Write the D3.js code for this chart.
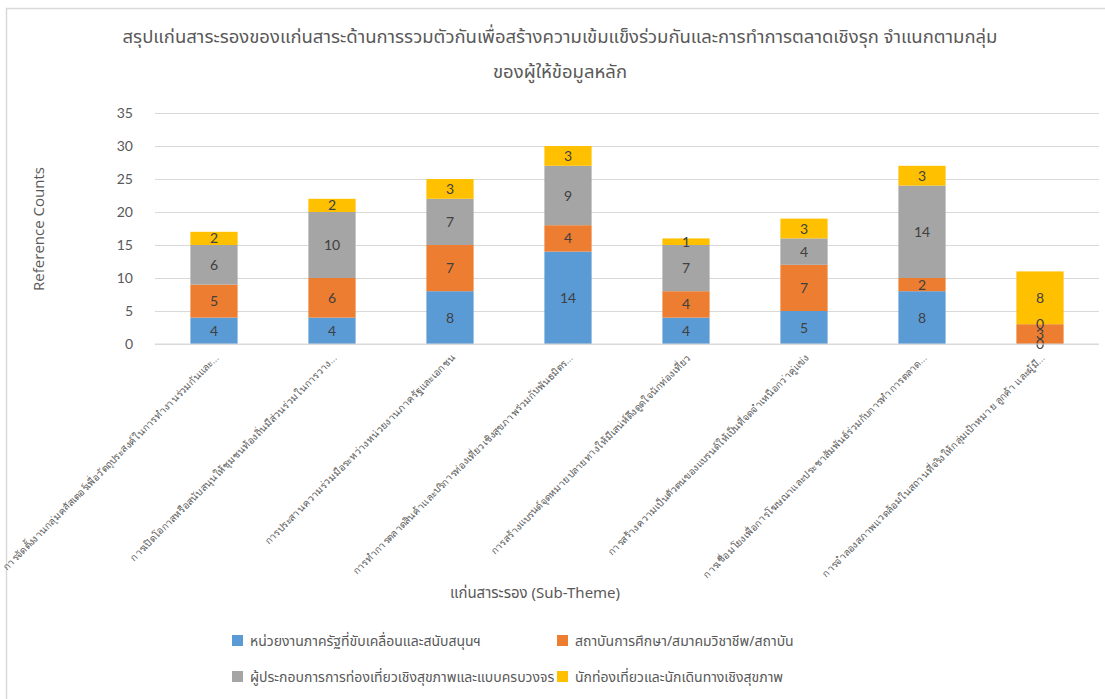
<!DOCTYPE html>
<html>
<head>
<meta charset="utf-8">
<script src="https://cdn.jsdelivr.net/npm/d3@7"></script>
<style>
  html, body { margin: 0; padding: 0; background: #fff; }
  svg { display: block; font-family: "Noto Sans", "Noto Sans Thai", "Liberation Sans", sans-serif; }
</style>
</head>
<body>
<svg id="chart" width="1105" height="699"></svg>
<script>
const titleLines = [
  "สรุปแก่นสาระรองของแก่นสาระด้านการรวมตัวกันเพื่อสร้างความเข้มแข็งร่วมกันและการทำการตลาดเชิงรุก จำแนกตามกลุ่ม",
  "ของผู้ให้ข้อมูลหลัก"
];
const categories = [
  "การจัดตั้งงานกลุ่มคลัสเตอร์เพื่อวัตถุประสงค์ในการทำงานร่วมกันและ...",
  "การเปิดโอกาสหรือสนับสนุนให้ชุมชนท้องถิ่นมีส่วนร่วมในการวาง...",
  "การประสานความร่วมมือระหว่างหน่วยงานภาครัฐและเอกชน",
  "การทำการตลาดสินค้าและบริการท่องเที่ยวเชิงสุขภาพร่วมกับพันธมิตร...",
  "การสร้างแบรนด์จุดหมายปลายทางให้มีเสน่ห์ดึงดูดใจนักท่องเที่ยว",
  "การสร้างความเป็นตัวตนของแบรนด์ให้เป็นที่จดจำเหนือกว่าคู่แข่ง",
  "การเชื่อมโยงเพื่อการโฆษณาและประชาสัมพันธ์ร่วมกับการทำการตลาด...",
  "การจำลองสภาพแวดล้อมในสถานที่จริงให้กลุ่มเป้าหมาย ลูกค้า และผู้มี..."
];
const seriesNames = [
  "หน่วยงานภาครัฐที่ขับเคลื่อนและสนับสนุนฯ",
  "สถาบันการศึกษา/สมาคมวิชาชีพ/สถาบัน",
  "ผู้ประกอบการการท่องเที่ยวเชิงสุขภาพและแบบครบวงจร",
  "นักท่องเที่ยวและนักเดินทางเชิงสุขภาพ"
];
const government = [4, 4, 8, 14, 4, 5, 8, 0];
const academic   = [5, 6, 7, 4, 4, 7, 2, 3];
const operators  = [6, 10, 7, 9, 7, 4, 14, 0];
const tourists   = [2, 2, 3, 3, 1, 3, 3, 8];
const yTicks = [0, 5, 10, 15, 20, 25, 30, 35];
const yTitle = "Reference Counts";
const xTitle = "แก่นสาระรอง (Sub-Theme)";
const colors = ["#5b9bd5", "#ed7d31", "#a5a5a5", "#ffc000"];

const svg = d3.select("#chart");
const textColor = "#595959";

// outer frame (top/left visible)
svg.append("path").attr("d", "M6.5,699 L6.5,8.5 L1105,8.5")
  .attr("fill", "none").attr("stroke", "#d9d9d9").attr("stroke-width", 1.5);

const m = { left: 155, right: 1099, top: 113, bottom: 344 };
const x = d3.scaleBand().domain(categories).range([m.left, m.right]).paddingInner(0.6).paddingOuter(0.3);
const y = d3.scaleLinear().domain([0, 35]).range([m.bottom, m.top]);

// Title
svg.append("g").selectAll("text").data(titleLines).join("text")
  .attr("x", 560).attr("y", (d, i) => 43 + i * 35)
  .attr("text-anchor", "middle").attr("font-size", 18.5).attr("fill", textColor)
  .text(d => d);

// gridlines
const yAxis = d3.axisLeft(y).tickValues(yTicks).tickSize(-(m.right - m.left)).tickPadding(22);
const gy = svg.append("g").attr("transform", `translate(${m.left},0)`).call(yAxis);
gy.select(".domain").remove();
gy.selectAll(".tick line").attr("stroke", "#d9d9d9").attr("stroke-width", 1);
gy.selectAll(".tick text").attr("fill", textColor).attr("font-size", 14).attr("font-family", "Lato, 'Open Sans', sans-serif");

// stacks
const rows = categories.map((c, i) => ({ cat: c, s0: government[i], s1: academic[i], s2: operators[i], s3: tourists[i] }));
const stack = d3.stack().keys(["s0", "s1", "s2", "s3"]);
const stacked = stack(rows);

const layers = svg.append("g").selectAll("g").data(stacked).join("g")
  .attr("fill", (d, i) => colors[i]);
layers.selectAll("rect").data(d => d).join("rect")
  .attr("x", d => x(d.data.cat))
  .attr("width", x.bandwidth())
  .attr("y", d => y(d[1]))
  .attr("height", d => y(d[0]) - y(d[1]));

// value labels
const labels = svg.append("g");
stacked.forEach((layer, li) => {
  labels.selectAll(null).data(layer).join("text")
    .attr("x", d => x(d.data.cat) + x.bandwidth() / 2)
    .attr("y", d => (y(d[0]) + y(d[1])) / 2)
    .attr("dy", "0.36em")
    .attr("text-anchor", "middle")
    .attr("font-size", 14)
    .attr("font-family", "Lato, 'Open Sans', sans-serif")
    .attr("fill", "#404040")
    .text(d => d[1] - d[0]);
});

// x axis baseline
svg.append("line").attr("x1", m.left).attr("x2", m.right).attr("y1", y(0)).attr("y2", y(0))
  .attr("stroke", "#d9d9d9").attr("stroke-width", 1);

// x labels
const xAxis = d3.axisBottom(x).tickSize(0).tickPadding(0);
const gx = svg.append("g").attr("transform", `translate(0,${m.bottom})`).call(xAxis);
gx.select(".domain").remove();
gx.selectAll(".tick text")
  .attr("text-anchor", "end")
  .attr("font-size", 10)
  .attr("fill", textColor)
  .attr("transform", "translate(3,12) rotate(-45)")
  .attr("dy", "0.35em")
  .attr("y", 0).attr("x", 0);

// axis titles
svg.append("text").attr("transform", "translate(44,229) rotate(-90)")
  .attr("text-anchor", "middle").attr("font-size", 15).attr("fill", textColor)
  .attr("font-family", "'Open Sans', sans-serif")
  .text(yTitle);
svg.append("text").attr("x", 535).attr("y", 598)
  .attr("text-anchor", "middle").attr("font-size", 15).attr("fill", textColor)
  .text(xTitle);

// legend
const legendPos = [[232, 641], [557, 641], [232, 677], [557, 677]];
const lg = svg.append("g").selectAll("g").data(seriesNames).join("g")
  .attr("transform", (d, i) => `translate(${legendPos[i][0]},${legendPos[i][1]})`);
lg.append("rect").attr("x", 0).attr("y", -6).attr("width", 11).attr("height", 11)
  .attr("fill", (d, i) => colors[i]);
lg.append("text").attr("x", 18).attr("y", 0).attr("dy", "0.35em")
  .attr("font-size", 14).attr("fill", textColor).text(d => d);
</script>
</body>
</html>
